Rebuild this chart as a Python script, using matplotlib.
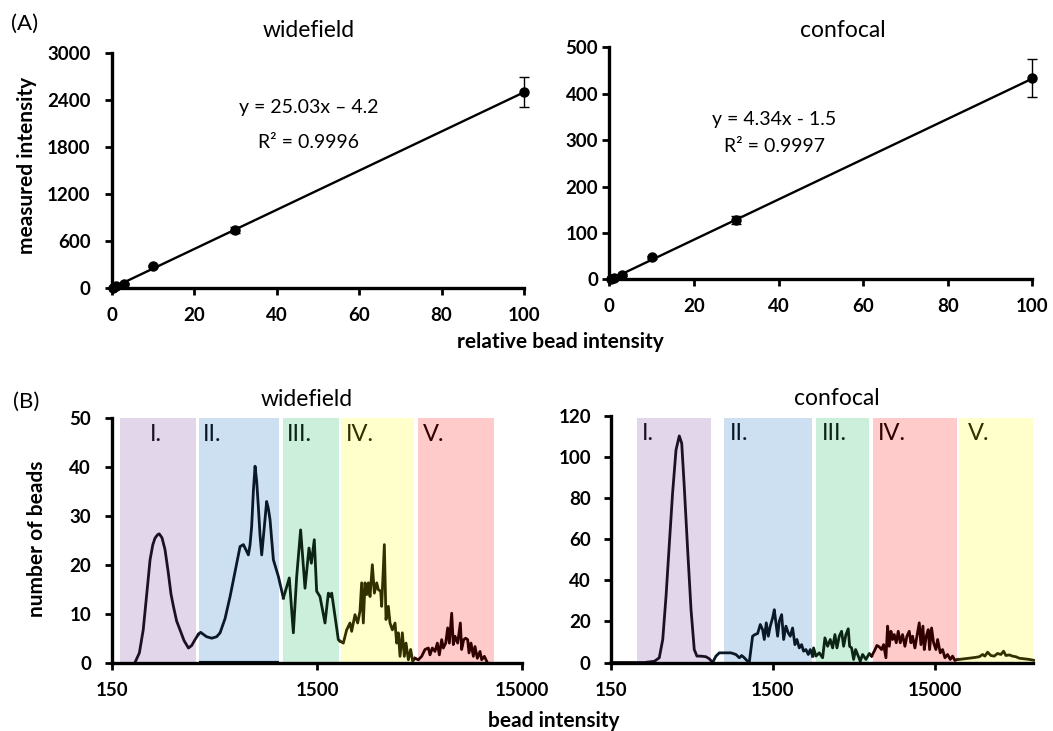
import matplotlib
matplotlib.use('Agg')
import matplotlib.pyplot as plt
from matplotlib.ticker import FixedLocator, NullLocator

plt.rcParams['font.family'] = ['Lato', 'DejaVu Sans']

# ---------------- (A) calibration data ----------------
rel_intensity = [0.3, 1, 3, 10, 30, 100]
wf_measured = [5, 20, 55, 280, 740, 2500]
wf_error = [3, 5, 8, 15, 40, 190]
cf_measured = [0.5, 2, 9, 47, 128, 433]
cf_error = [0.3, 0.5, 1.5, 3, 9, 41]
wf_fit = (25.03, -4.2)
cf_fit = (4.34, -1.5)
wf_eq = ["y = 25.03x \u2013 4.2", "R\u00b2 = 0.9996"]
cf_eq = ["y = 4.34x - 1.5", "R\u00b2 = 0.9997"]
rel_ticks = [0, 20, 40, 60, 80, 100]
wf_yticks = [0, 600, 1200, 1800, 2400, 3000]
cf_yticks = [0, 100, 200, 300, 400, 500]

# ---------------- (B) histogram data ----------------
band_labels = ["I.", "II.", "III.", "IV.", "V."]
bead_ticks = [150, 1500, 15000]
wf_hist_yticks = [0, 10, 20, 30, 40, 50]
cf_hist_yticks = [0, 20, 40, 60, 80, 100, 120]

wf_bands = [(164, 385), (397, 979), (1027, 1914), (1958, 4460), (4680, 10990)]
cf_bands = [(218, 626), (746, 2613), (2754, 5870), (6213, 20580), (21060, 60230)]

wf_x = [
    [194, 204, 213, 221, 230, 237, 243, 250, 255, 263, 272, 282, 291, 299, 310,
     322, 337, 354, 367, 381, 396],
    [396, 406, 418, 434, 460, 486, 505, 534, 565, 597, 632, 656, 676, 694, 707,
     720, 734, 748, 762, 776, 791, 806, 827, 852, 868, 885, 919, 972, 1028],
    [1028, 1099, 1150, 1194, 1248, 1311, 1371, 1408, 1455, 1494, 1551, 1641,
     1704, 1740, 1769, 1836, 1906, 1942],
    [1942, 2016, 2093, 2173, 2214, 2298, 2368, 2431, 2477, 2524, 2572, 2621,
     2670, 2721, 2793, 2857, 2933, 2988, 3067, 3101, 3196, 3256, 3343, 3406,
     3497, 3603, 3671, 3741, 3811, 3912, 4000, 4077, 4185, 4296, 4393, 4509],
    [4509, 4681, 4861, 5046, 5239, 5337, 5478, 5646, 5796, 5928, 6085, 6201,
     6365, 6510, 6633, 6809, 6936, 7068, 7283, 7504, 7617, 7790, 7967, 8149,
     8272, 8459, 8683, 8847, 9082, 9359, 9537, 9827, 10088],
]
wf_y = [
    [0, 2, 6.7, 13.5, 21, 24, 25.4, 26.1, 26.3, 25.5, 23.1, 18.5, 14, 11.5, 8.5,
     6.7, 4.5, 3.0, 3.5, 4.7, 5.8],
    [5.8, 6.2, 5.8, 5.3, 5.0, 5.3, 6.1, 9.0, 13.5, 18.5, 23.7, 24.1, 23, 22.0,
     24.0, 27.8, 35, 40.1, 37, 31.9, 26, 22.0, 27, 32.9, 31.5, 29.2, 21, 17.6, 13.2],
    [13.2, 17.3, 6.1, 17.6, 27.1, 15.2, 23.4, 20.3, 25.1, 14.6, 13.5, 8.1,
     14.2, 13.5, 14.2, 9.5, 4.7, 4.4],
    [4.4, 4.0, 6.7, 8.1, 6.4, 9.8, 8.1, 10.5, 16.3, 8.1, 16.3, 13.9,
     16.3, 13.5, 20.0, 14.2, 16.3, 14.9, 14.6, 11.5, 24.1, 8.8, 11.5, 8.1,
     6.7, 8.1, 4.0, 6.1, 1.3, 6.1, 1.3, 4.0, 0.6, 2.7, 0.3, 0.9],
    [0.9, 0.6, 1.3, 2.7, 3.0, 1.6, 3.0, 2.3, 4.0, 1.6, 4.7, 3.0,
     4.0, 7.1, 4.0, 10.1, 3.7, 5.4, 4.0, 8.1, 2.7, 4.7, 5.0, 4.7,
     2.0, 4.0, 1.3, 3.3, 0.9, 2.3, 0.6, 1.3, 0.3],
]

cf_x = [
    [150, 241, 278, 298, 313, 328, 344, 360, 378, 396, 410, 425, 446, 468, 490,
     509, 539, 579, 607, 636],
    [636, 667, 700, 769, 826, 886, 930, 961, 998, 1046, 1071, 1123, 1161, 1206,
     1253, 1295, 1326, 1364, 1404, 1444, 1493, 1529, 1565, 1603, 1641, 1697,
     1746, 1804, 1865, 1918, 1983, 2050, 2110, 2181, 2254, 2319, 2397, 2478,
     2550, 2637],
    [2637, 2673, 2763, 2898, 3039, 3141, 3262, 3388, 3503, 3621, 3726, 3851,
     3981, 4096, 4234, 4375, 4460, 4589, 4722, 4858, 4997, 5190, 5364, 5627,
     5900, 6098],
    [6098, 6333, 6578, 6800, 7029, 7232, 7476, 7656, 7839, 8027, 8220, 8415,
     8657, 8907, 9164, 9471, 9792, 10076, 10413, 10667, 10920, 11289, 11615,
     12006, 12294, 12648, 12895, 13264, 13644, 13907, 14306, 14718, 15214,
     15586, 16187, 16729, 17295, 17960, 18655, 19273, 19929, 20700],
    [20700, 21200, 22760, 24430, 26230, 28170, 29550, 30530, 31700, 33240,
     34850, 36540, 38320, 39810, 41160, 43150, 45230, 47430, 49730, 53400,
     57340, 60980],
]
cf_y = [
    [0, 0, 0.6, 2.3, 11.2, 32.2, 58.1, 82.4, 103.5, 110.3, 106.7, 85.7, 54.9,
     25.7, 6.3, 3.1, 3.1, 2.8, 1.8, 0],
    [0, 3.1, 4.7, 4.7, 4.7, 3.9, 2.3, 3.4, 2.3, 0.6, 0, 12.8, 13.6, 14.1,
     18.5, 16.0, 11.2, 19.3, 12.8, 17.7, 21.7, 25.7, 19.3, 12.8, 20.1, 23.3,
     11.2, 17.7, 14.4, 12.8, 16.8, 8.7, 11.2, 7.1, 8.7, 5.5, 6.3, 3.9,
     6.3, 3.1],
    [3.1, 7.1, 3.1, 4.7, 2.3, 12.0, 7.9, 11.2, 7.1, 13.6, 7.1, 12.8,
     15.2, 7.9, 13.6, 16.4, 7.9, 7.1, 1.5, 6.3, 3.9, 0.6, 3.9, 1.5,
     4.4, 3.1],
    [3.1, 5.5, 8.3, 7.6, 6.3, 8.7, 2.3, 17.7, 7.9, 15.2, 11.2, 13.6,
     9.6, 15.2, 9.6, 13.6, 7.9, 12.8, 15.2, 9.6, 12.8, 7.1, 12.8,
     19.3, 8.7, 17.7, 6.3, 12.8, 16.0, 6.3, 16.8, 9.6, 6.3,
     11.2, 4.7, 6.3, 2.3, 3.9, 1.5, 3.1, 1.0, 1.5],
    [1.5, 1.5, 1.8, 2.1, 2.4, 2.8, 3.9, 3.1, 5.0, 3.4,
     3.1, 4.4, 3.9, 5.5, 3.4, 3.7, 3.1, 2.8, 2.1, 1.8,
     1.5, 1.1],
]

PURPLE, BLUE, GREEN, YELLOW, RED = '#e2d6ea', '#cde0f1', '#ccefdc', '#ffffcc', '#ffcaca'
D_PURPLE, D_BLUE, D_GREEN, D_YELLOW, D_RED = '#1c1024', '#0a1828', '#0c2414', '#333000', '#300000'
wf_fill = [PURPLE, BLUE, GREEN, YELLOW, RED]
wf_dark = [D_PURPLE, D_BLUE, D_GREEN, D_YELLOW, D_RED]
cf_fill = [PURPLE, BLUE, GREEN, RED, YELLOW]
cf_dark = [D_PURPLE, D_BLUE, D_GREEN, D_RED, D_YELLOW]

W, H = 1053, 731
fig = plt.figure(figsize=(W / 100, H / 100), dpi=100)


def rect(l, t, r, b):
    return [l / W, 1 - b / H, (r - l) / W, (b - t) / H]


def fx(x):
    return x / W


def fy(y):
    return 1 - y / H


TICK_FS = 13.5
LAB_FS = 15
TITLE_FS = 16.5


def style(ax, xt, yt, ypad, xpad=8.5):
    for s in ('top', 'right'):
        ax.spines[s].set_visible(False)
    for s in ('left', 'bottom'):
        ax.spines[s].set_linewidth(2.4)
        ax.spines[s].set_zorder(5)
    ax.set_xticks(xt, [f'{v:g}' for v in xt], fontweight='bold', fontsize=TICK_FS)
    ax.set_yticks(yt, [f'{v:g}' for v in yt], fontweight='bold', fontsize=TICK_FS)
    ax.xaxis.set_minor_locator(NullLocator())
    ax.yaxis.set_minor_locator(NullLocator())
    ax.tick_params(direction='out', length=5, width=2.0)
    ax.tick_params(axis='x', pad=xpad)
    ax.tick_params(axis='y', pad=ypad)


# ---- (A) widefield ----
ax1 = fig.add_axes(rect(111.5, 53, 524, 288))
ax1.errorbar(rel_intensity, wf_measured, yerr=wf_error, fmt='o', color='black',
             ms=6.5, capsize=3.5, elinewidth=1, capthick=1, clip_on=False, zorder=4)
fx1 = [rel_intensity[0], rel_intensity[-1]]
ax1.plot(fx1, [wf_fit[0] * v + wf_fit[1] for v in fx1], color='black', lw=1.7,
         clip_on=False, zorder=3)
ax1.set_xlim(0, 100)
ax1.set_ylim(0, 3000)
style(ax1, rel_ticks, wf_yticks, ypad=10)

# ---- (A) confocal ----
ax2 = fig.add_axes(rect(609.3, 47.3, 1032.3, 279.3))
ax2.errorbar(rel_intensity, cf_measured, yerr=cf_error, fmt='o', color='black',
             ms=6.5, capsize=3.5, elinewidth=1, capthick=1, clip_on=False, zorder=4)
ax2.plot(fx1, [cf_fit[0] * v + cf_fit[1] for v in fx1], color='black', lw=1.7,
         clip_on=False, zorder=3)
ax2.set_xlim(0, 100)
ax2.set_ylim(0, 500)
style(ax2, rel_ticks, cf_yticks, ypad=3)

EQ_FS = 14
fig.text(fx(309), fy(113), wf_eq[0], ha='center', va='baseline', fontsize=EQ_FS)
fig.text(fx(309), fy(148.5), wf_eq[1], ha='center', va='baseline', fontsize=EQ_FS)
fig.text(fx(774), fy(125), cf_eq[0], ha='center', va='baseline', fontsize=EQ_FS)
fig.text(fx(774), fy(151.5), cf_eq[1], ha='center', va='baseline', fontsize=EQ_FS)


# ---- (B) histograms ----
def hist_panel(ax, bands, fills, darks, xs, ys, ymax, band_top, xmax, label_off, yt, ypad):
    for i, ((a, b), c) in enumerate(zip(bands, fills)):
        ax.axvspan(a, b, ymin=0, ymax=band_top / ymax, color=c, lw=0, zorder=1)
        ax.annotate(band_labels[i], xy=(a, 0.93), xycoords=('data', 'axes fraction'),
                    xytext=(label_off[i], 0), textcoords='offset pixels',
                    ha='left', va='center', fontsize=TITLE_FS + 0.5, color=darks[i], zorder=3)
    for x, y, d in zip(xs, ys, darks):
        ax.plot(x, y, color=d, lw=2.0, solid_joinstyle='round', zorder=4, clip_on=False)
    ax.set_xscale('log')
    ax.set_ylim(0, ymax)
    ax.xaxis.set_major_locator(FixedLocator(bead_ticks))
    style(ax, bead_ticks, yt, ypad=ypad, xpad=9)
    ax.set_xlim(150, xmax)


ax3 = fig.add_axes(rect(112, 417.7, 522, 662.7))
hist_panel(ax3, wf_bands, wf_fill, wf_dark, wf_x, wf_y, 50, 49.9, 15000,
           [30, 4, 4, 5, 5], wf_hist_yticks, ypad=10)
ax3.hlines(0, wf_bands[1][0], wf_bands[1][1], color=D_BLUE, lw=3, zorder=4)

ax4 = fig.add_axes(rect(611, 416, 1033, 662.5))
hist_panel(ax4, cf_bands, cf_fill, cf_dark, cf_x, cf_y, 120, 119, 60500,
           [5, 6, 6, 5, 9], cf_hist_yticks, ypad=9.5)

# ---- titles and labels ----
fig.text(fx(309), fy(37), 'widefield', ha='center', va='baseline', fontsize=TITLE_FS)
fig.text(fx(842.5), fy(36.7), 'confocal', ha='center', va='baseline', fontsize=TITLE_FS)
fig.text(fx(306.7), fy(405.5), 'widefield', ha='center', va='baseline', fontsize=TITLE_FS)
fig.text(fx(836.7), fy(405), 'confocal', ha='center', va='baseline', fontsize=TITLE_FS)

fig.text(fx(25), fy(24), '(A)', ha='center', va='center', fontsize=16)
fig.text(fx(26), fy(402), '(B)', ha='center', va='center', fontsize=16)

fig.text(fx(27), fy(165.6), 'measured intensity', rotation=90, ha='center', va='center',
         fontsize=LAB_FS, fontweight='bold')
fig.text(fx(37), fy(539), 'number of beads', rotation=90, ha='center', va='center',
         fontsize=LAB_FS, fontweight='bold')
fig.text(fx(560), fy(348), 'relative bead intensity', ha='center', va='baseline',
         fontsize=LAB_FS, fontweight='bold')
fig.text(fx(554), fy(727), 'bead intensity', ha='center', va='baseline',
         fontsize=LAB_FS, fontweight='bold')

fig.savefig('out.png', dpi=100)
